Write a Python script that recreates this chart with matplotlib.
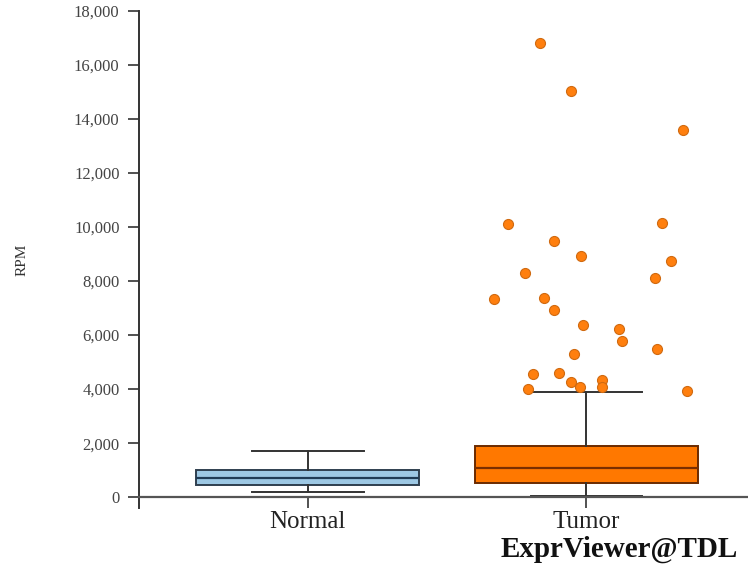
import numpy as np
import matplotlib
matplotlib.use("Agg")
import matplotlib.pyplot as plt

plt.rcParams['font.family'] = ['Liberation Serif', 'DejaVu Serif']

# Box summary values (RPM)
groups = ["Normal", "Tumor"]
medians = [722, 1093]
q1s = [463, 537]
q3s = [1020, 1907]
whisker_lo = [204, 56]
whisker_hi = [1722, 3907]

# Tumor outliers: value and horizontal jitter (in box-width units)
tumor_outliers = [16833, 15056, 13611, 10130, 10167, 9500, 8944, 8759, 8315, 8130,
                  7352, 7389, 6944, 6389, 6241, 5796, 5500, 5315, 4574, 4611,
                  4278, 4093, 4352, 4093, 4019, 3944]
tumor_jitter = [-0.165, -0.054, 0.348, -0.280, 0.272, -0.118, -0.018, 0.305, -0.219, 0.247,
                -0.333, -0.151, -0.115, -0.011, 0.118, 0.129, 0.254, -0.043, -0.190, -0.100,
                -0.054, -0.022, 0.057, 0.057, -0.208, 0.362]

box_colors = ["#9dc8e4", "#ff7800"]
median_colors = ["#1f3b55", "#7a2e00"]
edge_colors = ["#2f3f4f", "#6a2a00"]

fig = plt.figure(figsize=(7.48, 5.70), dpi=100)
ax = fig.add_axes([0.1858, 0.1088, 0.8142, 0.8719])

# spine position first: moving it resets the tick labels
for s in ["top", "right"]:
    ax.spines[s].set_visible(False)
ax.spines["bottom"].set_position(("data", 0))
ax.spines["bottom"].set_color("#555555")
ax.spines["bottom"].set_linewidth(1.6)
ax.spines["left"].set_color("#333333")
ax.spines["left"].set_linewidth(1.4)

positions = np.arange(len(groups))
for i in range(len(groups)):
    stats = [dict(med=medians[i], q1=q1s[i], q3=q3s[i],
                  whislo=whisker_lo[i], whishi=whisker_hi[i], fliers=[])]
    ax.bxp(stats, positions=[positions[i]], widths=0.8, patch_artist=True,
           showfliers=False, manage_ticks=False,
           boxprops=dict(facecolor=box_colors[i], edgecolor=edge_colors[i], linewidth=1.4),
           medianprops=dict(color=median_colors[i], linewidth=1.6),
           whiskerprops=dict(color="#333333", linewidth=1.4),
           capprops=dict(color="#333333", linewidth=1.4),
           capwidths=0.4)

ax.scatter(positions[1] + np.array(tumor_jitter), tumor_outliers, s=52,
           color="#ff7f0e", edgecolor="#d06a10", linewidth=0.8, zorder=3)

ax.set_xlim(-0.606, 1.58)
ax.set_ylim(-400, 18000)
ax.set_yticks(np.arange(0, 18001, 2000))
ax.set_yticklabels(["{:,}".format(v) for v in range(0, 18001, 2000)],
                   fontsize=12, color="#444444")
ax.set_xticks(positions)
ax.set_xticklabels(groups, fontsize=18, color="#222222")
ax.tick_params(axis="y", length=8, width=1.2, color="#333333", pad=6)
ax.tick_params(axis="x", length=8, width=1.2, color="#333333", pad=2)

ax.set_ylabel("RPM", fontsize=11, color="#333333", labelpad=33)

fig.text(0.987, 0.0228, "ExprViewer@TDL", ha="right", va="baseline",
         fontsize=21, fontweight="bold", color="#111111")

fig.savefig("out.png", dpi=100)
